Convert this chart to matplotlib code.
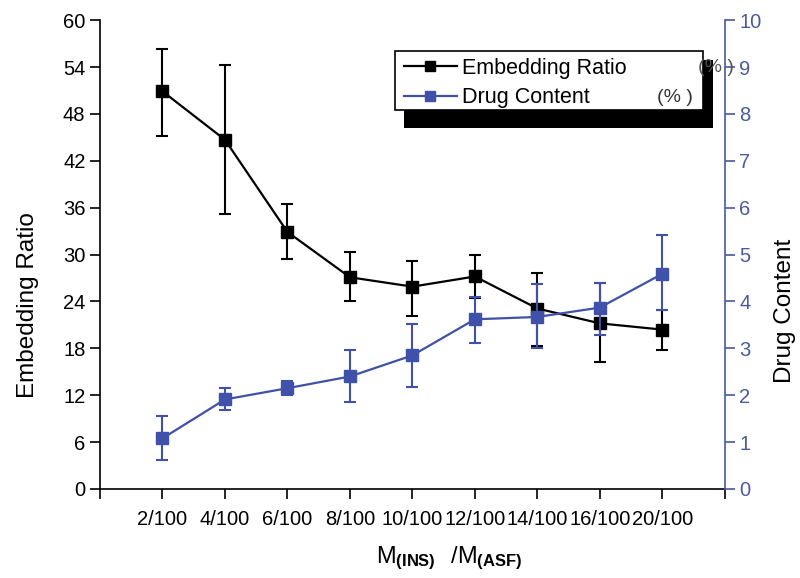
import matplotlib
matplotlib.use("Agg")
import matplotlib.pyplot as plt
from matplotlib.patches import Rectangle

plt.rcParams['font.family'] = ['Liberation Sans', 'DejaVu Sans']
plt.rcParams['mathtext.fontset'] = 'custom'
plt.rcParams['mathtext.rm'] = 'Liberation Sans'
plt.rcParams['mathtext.bf'] = 'Liberation Sans:bold'

categories = ["2/100", "4/100", "6/100", "8/100", "10/100", "12/100", "14/100", "16/100", "20/100"]
embed = [50.9, 44.7, 32.9, 27.1, 25.9, 27.2, 23.1, 21.2, 20.4]
embed_err_up = [5.4, 9.6, 3.6, 3.2, 3.3, 2.8, 4.6, 5.2, 2.5]
embed_err_dn = [5.7, 9.5, 3.4, 3.1, 3.7, 2.7, 4.8, 4.9, 2.6]
drug = [1.08, 1.91, 2.15, 2.40, 2.85, 3.62, 3.67, 3.87, 4.59]
drug_err_up = [0.47, 0.24, 0.15, 0.56, 0.68, 0.47, 0.71, 0.53, 0.82]
drug_err_dn = [0.46, 0.23, 0.15, 0.55, 0.68, 0.50, 0.66, 0.59, 0.78]
left_ticks = [0, 6, 12, 18, 24, 30, 36, 42, 48, 54, 60]
right_ticks = [0, 1, 2, 3, 4, 5, 6, 7, 8, 9, 10]

BLUE = '#3f51a8'
AXBLUE = '#4a5a9c'

W, H = 800, 578
fig = plt.figure(figsize=(8, 5.78), dpi=100)
ax = fig.add_axes([0.125, 0.154, 0.781, 0.811])
ax2 = ax.twinx()

x = list(range(1, len(categories) + 1))

l1 = ax.errorbar(x, embed, yerr=[embed_err_dn, embed_err_up], color='black', lw=1.6,
                 marker='s', ms=8, capsize=4, elinewidth=1.5, capthick=1.5,
                 label='Embedding Ratio', zorder=3)
l2 = ax2.errorbar(x, drug, yerr=[drug_err_dn, drug_err_up], color=BLUE, lw=1.6,
                  marker='s', ms=8, capsize=4, elinewidth=1.5, capthick=1.5,
                  label='Drug Content', zorder=3)

ax.set_xlim(0, 10)
ax.set_ylim(0, 60)
ax2.set_ylim(0, 10)
ax.set_xticks(range(0, 11))
ax.set_xticklabels([''] + categories + [''])
ax.set_yticks(left_ticks)
ax2.set_yticks(right_ticks)

for a in (ax, ax2):
    a.spines['top'].set_visible(False)
ax.spines['right'].set_visible(False)
ax2.spines['left'].set_visible(False)
ax2.spines['bottom'].set_visible(False)
ax2.spines['right'].set_color(AXBLUE)
ax.spines['left'].set_linewidth(1.2)
ax.spines['bottom'].set_linewidth(1.2)
ax2.spines['right'].set_linewidth(1.2)

ax.tick_params(axis='both', direction='out', length=7, width=1.2, labelsize=14.5)
ax.tick_params(axis='x', pad=8)
ax2.tick_params(axis='y', direction='out', length=7, width=1.2, labelsize=14.5,
                colors=AXBLUE)

# axis titles
fig.text(28 / W, 1 - 305 / H, 'Embedding Ratio', rotation=90, fontsize=17.5,
         ha='center', va='center')
fig.text(785 / W, 1 - 311 / H, 'Drug Content', rotation=90, fontsize=17.5,
         ha='center', va='center')
fig.text(449 / W, 1 - 558 / H,
         r'$\mathregular{M_{\mathbf{(INS)}}\ \ /M_{\mathbf{(ASF)}}}$',
         fontsize=17, ha='center', va='center')

# legend with heavy black shadow
shadow = Rectangle((404 / W, 1 - 128 / H), (713 - 404) / W, (128 - 60) / H,
                   transform=fig.transFigure, facecolor='black', edgecolor='none', zorder=5)
frame = Rectangle((395 / W, 1 - 110 / H), (703 - 395) / W, (110 - 51) / H,
                  transform=fig.transFigure, facecolor='white', edgecolor='black',
                  linewidth=1.2, zorder=6)
fig.patches.extend([shadow, frame])
leg = fig.legend([l1[0], l2[0]], ['Embedding Ratio', 'Drug Content'], loc='upper left',
                 bbox_to_anchor=(404 / W, 1 - 58 / H), fontsize=15.5, frameon=False,
                 handlelength=2.45, handletextpad=0.25, borderpad=0, labelspacing=0.38,
                 borderaxespad=0, markerscale=0.9)
leg.set_zorder(7)
fig.text(657 / W, 1 - 97 / H, '(% )', fontsize=14, color='#333333', va='center', zorder=8)
fig.text(698 / W, 1 - 67 / H, '(% )', fontsize=14, color='#555555', va='center', zorder=8)

fig.savefig('out.png', dpi=100)
